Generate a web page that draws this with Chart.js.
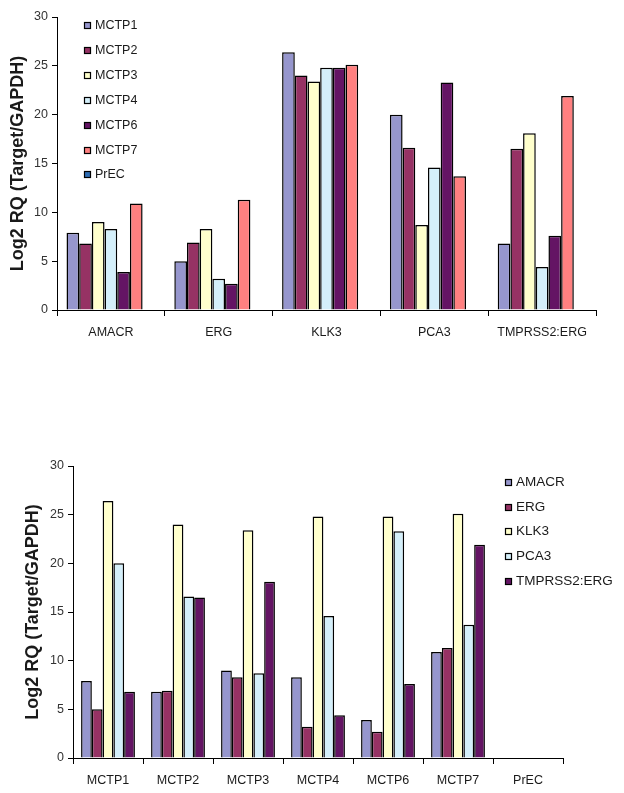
<!DOCTYPE html>
<html>
<head>
<meta charset="utf-8">
<script src="https://cdn.jsdelivr.net/npm/chart.js@4/dist/chart.umd.min.js"></script>
<style>
  html, body { margin: 0; padding: 0; background: #fff; }
  body { width: 624px; height: 793px; position: relative; overflow: hidden; }
  .box { position: absolute; left: 0; width: 624px; }
  #top { top: 0; height: 345px; }
  #bottom { top: 440px; height: 353px; }
</style>
</head>
<body>
<div class="box" id="top"><canvas id="geneChart"></canvas></div>
<div class="box" id="bottom"><canvas id="sampleChart"></canvas></div>
<script>
const genes = ["AMACR", "ERG", "KLK3", "PCA3", "TMPRSS2:ERG"];
const samples = ["MCTP1", "MCTP2", "MCTP3", "MCTP4", "MCTP6", "MCTP7", "PrEC"];
const yTicks = [0, 5, 10, 15, 20, 25, 30];

// values per sample, in the order of genes
const mctp1 = [7.9, 5.0, 26.4, 20.0, 6.8];
const mctp2 = [6.8, 6.9, 24.0, 16.6, 16.5];
const mctp3 = [9.0, 8.3, 23.4, 8.7, 18.1];
const mctp4 = [8.3, 3.2, 24.8, 14.6, 4.4];
const mctp6 = [3.9, 2.7, 24.8, 23.3, 7.6];
const mctp7 = [10.9, 11.3, 25.1, 13.7, 21.9];
const prec = [0, 0, 0, 0, 0];

const sampleValues = [mctp1, mctp2, mctp3, mctp4, mctp6, mctp7, prec];
const sampleColors = ["#9696cd", "#963264", "#ffffcc", "#d4effa", "#641464", "#ff8080", "#2e6db4"];
const geneColors = ["#9696cd", "#963264", "#ffffcc", "#d4effa", "#641464"];

const textColor = "#1a1a1a";
const axisFont = { family: "Arial, 'Liberation Sans', sans-serif", size: 12.5 };
const titleFont = { family: "Arial, 'Liberation Sans', sans-serif", size: 18, weight: "bold" };

// small legend with outlined boxes, drawn at a given spot
const boxLegend = {
  id: "boxLegend",
  afterDraw(chart, args, opts) {
    const ctx = chart.ctx;
    ctx.save();
    ctx.font = opts.font;
    ctx.textBaseline = "middle";
    chart.data.datasets.forEach((ds, i) => {
      const y = Math.round(opts.y + i * opts.step);
      ctx.fillStyle = ds.backgroundColor;
      ctx.fillRect(opts.x, y - 3, 7, 7);
      ctx.strokeStyle = "#000";
      ctx.lineWidth = 1.2;
      ctx.strokeRect(opts.x + 0.5, y - 2.5, 6, 6);
      ctx.fillStyle = textColor;
      ctx.fillText(ds.label, opts.x + 11, y + 0.5);
    });
    ctx.restore();
  }
};

function makeOptions(yWidth, pad, legend) {
  return {
    responsive: true,
    maintainAspectRatio: false,
    animation: false,
    layout: { padding: pad },
    plugins: {
      legend: { display: false },
      tooltip: { enabled: false },
      boxLegend: legend
    },
    scales: {
      x: {
        grid: { offset: true, drawOnChartArea: false, drawTicks: true, tickLength: 6, color: "#000" },
        border: { color: "#000", width: 1 },
        ticks: { color: textColor, font: axisFont, padding: 9, maxRotation: 0 },
        afterFit: (scale) => { scale.height = 35; }
      },
      y: {
        min: 0,
        max: 30,
        afterBuildTicks: (scale) => { scale.ticks = yTicks.map(v => ({ value: v })); },
        grid: { drawOnChartArea: false, drawTicks: true, tickLength: 5, color: "#000" },
        border: { color: "#000", width: 1 },
        ticks: { color: "#333", font: axisFont, padding: 4 },
        title: { display: true, text: "Log2 RQ (Target/GAPDH)", color: textColor, font: titleFont, padding: { top: 7, bottom: 0 } },
        afterFit: (scale) => { scale.width = yWidth; }
      }
    }
  };
}

// top: genes on the axis, one bar per sample
new Chart(document.getElementById("geneChart"), {
  type: "bar",
  data: {
    labels: genes,
    datasets: samples.map((s, i) => ({
      label: s,
      data: sampleValues[i],
      backgroundColor: sampleColors[i],
      borderColor: "#000",
      borderWidth: 1.5,
      categoryPercentage: 7 / 8.5,
      barPercentage: 1
    }))
  },
  options: makeOptions(57, { left: 0, top: 17, right: 28, bottom: 0 },
    { x: 84, y: 25, step: 24.9, font: "12.5px Arial, 'Liberation Sans', sans-serif" }),
  plugins: [boxLegend]
});

// bottom: samples on the axis, one bar per gene
new Chart(document.getElementById("sampleChart"), {
  type: "bar",
  data: {
    labels: samples,
    datasets: genes.map((g, gi) => ({
      label: g,
      data: sampleValues.map(v => v[gi]),
      backgroundColor: geneColors[gi],
      borderColor: "#000",
      borderWidth: 1.5,
      categoryPercentage: 5 / 6.5,
      barPercentage: 1
    }))
  },
  options: makeOptions(58, { left: 15, top: 26, right: 61, bottom: 0 },
    { x: 505, y: 41.7, step: 24.8, font: "13.5px Arial, 'Liberation Sans', sans-serif" }),
  plugins: [boxLegend]
});
</script>
</body>
</html>
